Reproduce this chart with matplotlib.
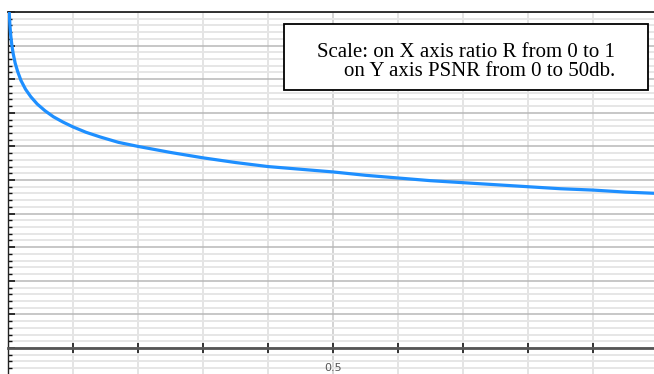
import matplotlib
matplotlib.use("Agg")
import matplotlib.pyplot as plt
from matplotlib.patches import Rectangle
from matplotlib.ticker import MultipleLocator

# curve values: ratio R -> PSNR (db)
ratio = [0.001, 0.002, 0.003, 0.004, 0.006, 0.008, 0.011, 0.015, 0.02, 0.027,
         0.035, 0.045, 0.057, 0.07, 0.085, 0.1, 0.12, 0.142, 0.17, 0.2,
         0.25, 0.3, 0.35, 0.4, 0.45, 0.5, 0.55, 0.6, 0.65, 0.7,
         0.75, 0.8, 0.85, 0.9, 0.95, 1.0]
psnr = [52.5, 49.7, 48.0, 46.7, 45.0, 43.8, 42.4, 41.1, 39.8, 38.5,
        37.4, 36.3, 35.3, 34.4, 33.6, 32.9, 32.1, 31.4, 30.6, 30.0,
        29.1, 28.3, 27.6, 27.0, 26.6, 26.2, 25.7, 25.3, 24.9, 24.6,
        24.3, 24.0, 23.7, 23.5, 23.2, 23.0]

x_ticks = [0.1, 0.2, 0.3, 0.4, 0.5, 0.6, 0.7, 0.8, 0.9, 1.0]
x_labels = ["", "", "", "", "0.5", "", "", "", "", ""]
note = "Scale: on X axis ratio R from 0 to 1\non Y axis PSNR from 0 to 50db."

W, H = 654, 374
fig = plt.figure(figsize=(W / 100, H / 100), dpi=100)

# axes: x=0 at px 8, x=1 at px 658; y=50 at px 12, y=0 at px 348
ppu = (348 - 12) / 50.0
ybot = -(H - 348) / ppu
ax = fig.add_axes([8 / W, 0, 650 / W, (H - 12) / H])
ax.set_xlim(0, 1)
ax.set_ylim(ybot, 50)

ax.yaxis.set_major_locator(MultipleLocator(5))
ax.yaxis.set_minor_locator(MultipleLocator(1))
ax.grid(which="minor", axis="y", color="#e6e6e6", linewidth=1.4, zorder=0)
ax.grid(which="major", axis="y", color="#b8b8b8", linewidth=1.1, zorder=0)
ax.set_xticks(x_ticks)
ax.set_xticklabels([])
ax.grid(which="major", axis="x", color="#dcdcdc", linewidth=1.1, zorder=0)
ax.axvline(0.5, color="#b0b0b0", linewidth=1.2, zorder=0)

ax.spines["right"].set_visible(False)
ax.spines["top"].set_color("#222222")
ax.spines["top"].set_linewidth(1.3)
ax.spines["left"].set_color("#222222")
ax.spines["left"].set_linewidth(1.0)
ax.spines["bottom"].set_position(("data", 0))
ax.spines["bottom"].set_color("#555555")
ax.spines["bottom"].set_linewidth(2.0)
ax.set_axisbelow(True)

ax.tick_params(axis="y", which="major", direction="in", length=5, width=1.2,
               color="#111111", labelleft=False)
ax.tick_params(axis="y", which="minor", direction="in", length=3, width=1.0,
               color="#111111")
ax.tick_params(axis="x", which="major", direction="inout", length=7, width=1.4,
               color="#333333")

# x labels drawn on top of the grid
for xt, lab in zip(x_ticks, x_labels):
    if lab:
        ax.annotate(lab, (xt, 0), xytext=(0, -14.5), textcoords="offset points",
                    ha="center", va="center", fontsize=8, color="#555555",
                    zorder=6, annotation_clip=False)

ax.plot(ratio, psnr, color="#1e8fff", linewidth=2.3, solid_joinstyle="round",
        solid_capstyle="round", zorder=3, clip_on=True)

# note box
fig.patches.append(Rectangle((284 / W, 1 - 90 / H), (648 - 284) / W, (90 - 24) / H,
                             transform=fig.transFigure, facecolor="white",
                             edgecolor="black", linewidth=1.3, zorder=5))
fig.text(615 / W, 1 - 62 / H, note, ha="right", va="center", multialignment="right",
         fontsize=15, family="Liberation Serif", linespacing=1.05, zorder=6)

fig.savefig("out.png", dpi=100)
